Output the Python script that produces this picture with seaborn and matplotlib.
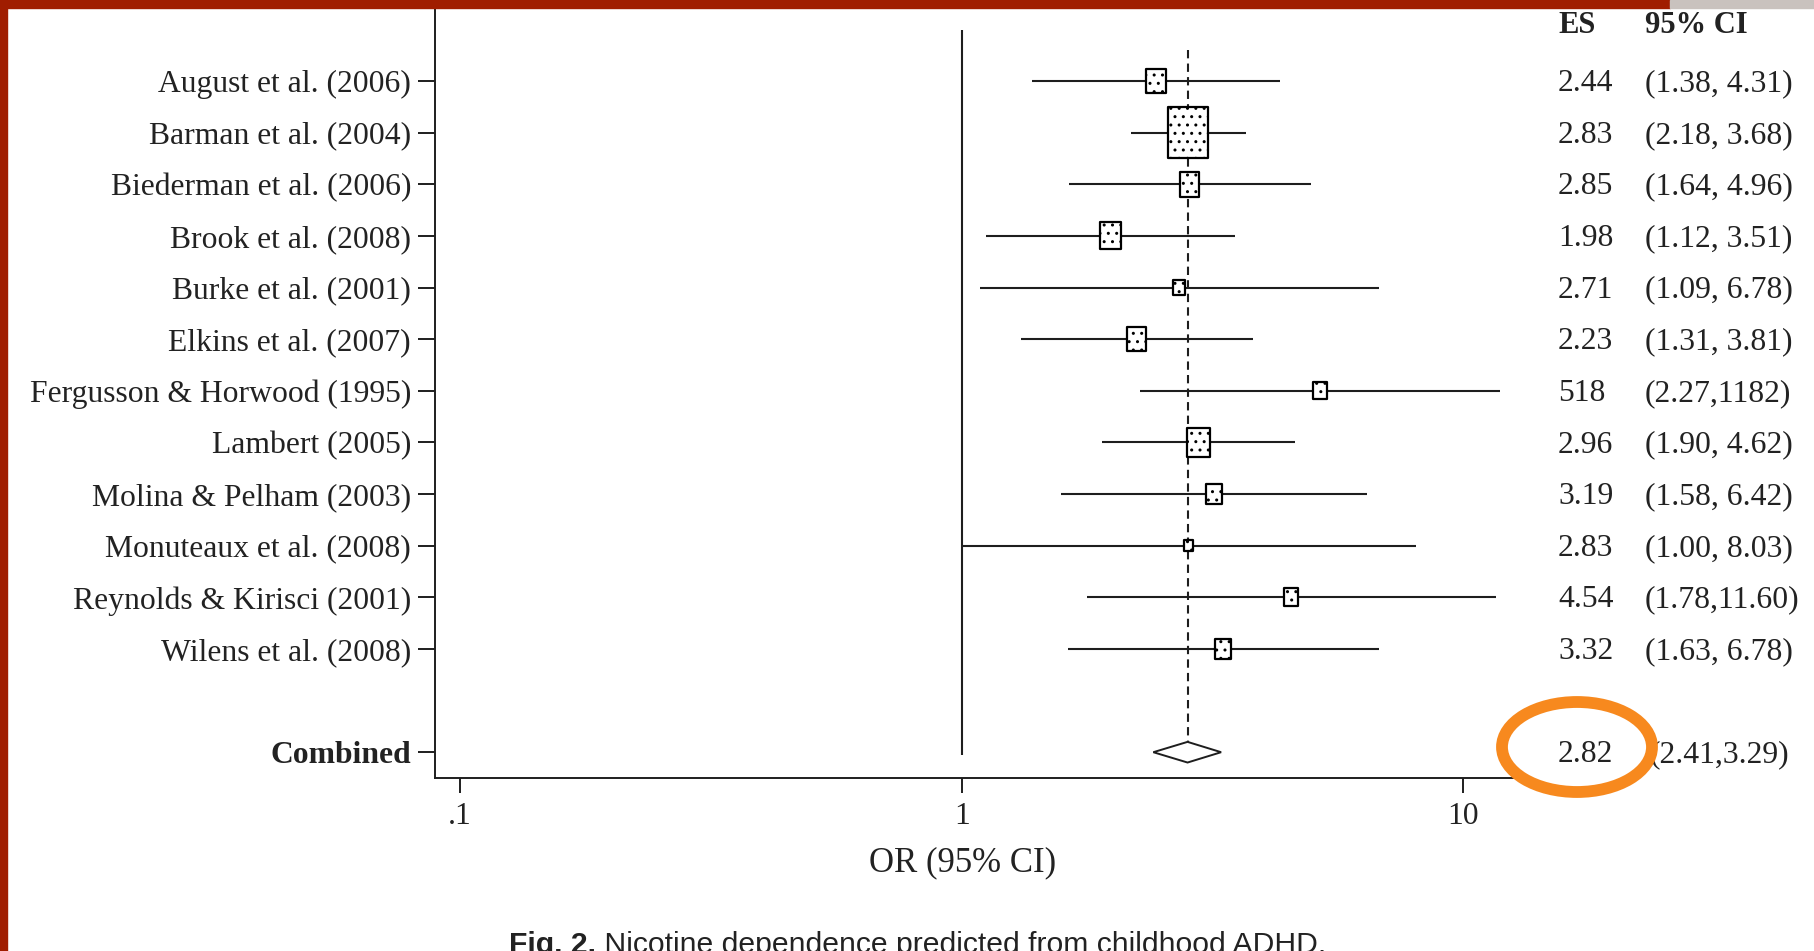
import numpy as np
import matplotlib
matplotlib.use("Agg")
import matplotlib.pyplot as plt
import seaborn as sns
import pandas as pd
from matplotlib.path import Path
from matplotlib.patches import Ellipse, Rectangle
from matplotlib import font_manager
from matplotlib.transforms import blended_transform_factory

# ---------------- data ----------------
studies = ["August et al. (2006)", "Barman et al. (2004)", "Biederman et al. (2006)",
           "Brook et al. (2008)", "Burke et al. (2001)", "Elkins et al. (2007)",
           "Fergusson & Horwood (1995)", "Lambert (2005)", "Molina & Pelham (2003)",
           "Monuteaux et al. (2008)", "Reynolds & Kirisci (2001)", "Wilens et al. (2008)"]
es = [2.44, 2.83, 2.85, 1.98, 2.71, 2.23, 5.18, 2.96, 3.19, 2.83, 4.54, 3.32]
ci_lo = [1.38, 2.18, 1.64, 1.12, 1.09, 1.31, 2.27, 1.90, 1.58, 1.00, 1.78, 1.63]
ci_hi = [4.31, 3.68, 4.96, 3.51, 6.78, 3.81, 11.82, 4.62, 6.42, 8.03, 11.60, 6.78]
weights = [7.6, 33.6, 7.6, 9.3, 3.0, 7.6, 3.6, 11.1, 5.4, 1.7, 4.1, 5.4]
es_text = ["2.44", "2.83", "2.85", "1.98", "2.71", "2.23", "518", "2.96", "3.19",
           "2.83", "4.54", "3.32"]
ci_text = ["(1.38, 4.31)", "(2.18, 3.68)", "(1.64, 4.96)", "(1.12, 3.51)", "(1.09, 6.78)",
           "(1.31, 3.81)", "(2.27,1182)", "(1.90, 4.62)", "(1.58, 6.42)", "(1.00, 8.03)",
           "(1.78,11.60)", "(1.63, 6.78)"]
combined_label = "Combined"
comb_es, comb_lo, comb_hi = 2.82, 2.41, 3.29
comb_es_text = "2.82"
comb_ci_text = "(2.41,3.29)"
null_value = 1.0
xticks = [0.1, 1, 10]
xtick_labels = [".1", "1", "10"]
header_es = "ES"
header_ci = "95% CI"
xlabel = "OR (95% CI)"
caption_bold = "Fig. 2."
caption_rest = " Nicotine dependence predicted from childhood ADHD."

# ---------------- style ----------------
sns.set_theme(style="white")
plt.rcParams["font.family"] = ["Liberation Serif", "DejaVu Serif"]
plt.rcParams["hatch.linewidth"] = 1.0
TXT = "#222222"
LINE = "#1e1e1e"
FS = 22.8

W, H = 1814, 951
fig = plt.figure(figsize=(W / 100, H / 100), dpi=100)
fig.patch.set_facecolor("white")

ax_l, ax_r, ax_b, ax_t = 435, 1525, 777.5, 0
ax = fig.add_axes([ax_l / W, 1 - ax_b / H, (ax_r - ax_l) / W, (ax_b - ax_t) / H])
ax.set_facecolor("white")
ax.set_xscale("log")

n = len(studies)
pos = list(range(n))
comb_pos = n + 1

df = pd.DataFrame({"study": studies, "es": es, "lo": ci_lo, "hi": ci_hi,
                   "w": weights, "pos": pos})

# confidence intervals
ax.hlines(df["pos"], df["lo"], df["hi"], color=LINE, lw=1.5, zorder=2)

# null line and combined line
dh = 0.2
ax.vlines(null_value, -0.99, comb_pos + 0.05, color=LINE, lw=1.5, zorder=1)
ax.vlines(comb_es, -0.6, comb_pos - dh, color=LINE, lw=1.5,
          linestyles=(0, (4, 2.5)), zorder=1)

# weighted boxes (rectangles, taller than wide)
rect = Path([(-0.39, -0.5), (0.39, -0.5), (0.39, 0.5), (-0.39, 0.5), (-0.39, -0.5)],
            [Path.MOVETO, Path.LINETO, Path.LINETO, Path.LINETO, Path.CLOSEPOLY])
k = 41.0
sns.scatterplot(data=df, x="es", y="pos", size="w",
                sizes=(k * min(weights), k * max(weights)),
                marker=rect, color="white", edgecolor="black", linewidth=1.6,
                hatch="..", legend=False, ax=ax, zorder=3)

# combined diamond
ax.fill([comb_lo, comb_es, comb_hi, comb_es],
        [comb_pos, comb_pos - dh, comb_pos, comb_pos + dh],
        facecolor="white", edgecolor=LINE, lw=1.4, zorder=3)

# axes
ax.set_xlim(10 ** -1.05, 10 ** 1.123)
ax.set_ylim(comb_pos + 0.49, -1.57)
ax.set_xticks(xticks)
ax.set_xticklabels(xtick_labels)
ax.minorticks_off()
ax.set_yticks(pos + [comb_pos])
ax.set_yticklabels(studies + [combined_label])
ax.get_yticklabels()[-1].set_fontweight("bold")
ax.tick_params(axis="y", length=12.2, width=1.4, pad=5, labelsize=FS,
               colors=LINE, labelcolor=TXT, left=True)
ax.tick_params(axis="x", length=11, width=1.4, pad=7, labelsize=FS,
               colors=LINE, labelcolor=TXT, bottom=True)
ax.set_xlabel(xlabel, fontsize=25, color=TXT, labelpad=11)
ax.xaxis.label.set_x((962.5 - ax_l) / (ax_r - ax_l))
ax.set_ylabel("")
for s in ["top", "right"]:
    ax.spines[s].set_visible(False)
for s in ["left", "bottom"]:
    ax.spines[s].set_color(LINE)
    ax.spines[s].set_linewidth(1.4)
ax.grid(False)

# right-hand text columns
tr = blended_transform_factory(ax.transAxes, ax.transData)
x_es = (1558 - ax_l) / (ax_r - ax_l)
x_ci = (1645 - ax_l) / (ax_r - ax_l)
hy = -1.07
dy = 0.05
ax.text(x_es, hy, header_es, transform=tr, fontsize=22, fontweight="bold",
        va="center", ha="left", color=TXT, clip_on=False)
ax.text(x_ci, hy, header_ci, transform=tr, fontsize=22, fontweight="bold",
        va="center", ha="left", color=TXT, clip_on=False)
for p, a, b in zip(pos, es_text, ci_text):
    ax.text(x_es, p + dy, a, transform=tr, fontsize=FS, va="center", ha="left",
            color=TXT, clip_on=False)
    ax.text(x_ci, p + dy, b, transform=tr, fontsize=FS, va="center", ha="left",
            color=TXT, clip_on=False)
ax.text(x_es, comb_pos + dy, comb_es_text, transform=tr, fontsize=FS, va="center",
        ha="left", color=TXT, clip_on=False)
ax.text((1650 - ax_l) / (ax_r - ax_l), comb_pos + dy, comb_ci_text, transform=tr,
        fontsize=FS, va="center", ha="left", color=TXT, clip_on=False)

# orange highlight ellipse
fig.add_artist(Ellipse((1577 / W, 1 - 747 / H), 150 / W, 90 / H,
                       transform=fig.transFigure, fill=False,
                       edgecolor="#F7891E", lw=8.5, zorder=10))

# caption (cut at bottom, as in the source slide)
avail = {f.name for f in font_manager.fontManager.ttflist}
cap_font = "Liberation Sans Narrow" if "Liberation Sans Narrow" in avail else "Liberation Sans"
t1 = fig.text(509 / W, 1 - 931 / H, caption_bold, fontsize=21.7, fontweight="bold",
              family=cap_font, va="top", ha="left", color=TXT)
ax.annotate(caption_rest, xy=(1, 1), xycoords=t1, va="top", ha="left",
            fontsize=21.7, family=cap_font, color=TXT, annotation_clip=False)

# red frame (top and left) from the slide
fig.add_artist(Rectangle((0, 1 - 8 / H), 1670 / W, 8 / H, transform=fig.transFigure,
                         color="#A01D00", zorder=20))
fig.add_artist(Rectangle((1670 / W, 1 - 8 / H), 1 - 1670 / W, 8 / H,
                         transform=fig.transFigure, color="#C9C2BE", zorder=20))
fig.add_artist(Rectangle((0, 0), 7 / W, 1, transform=fig.transFigure,
                         color="#A01D00", zorder=20))

fig.savefig("out.png", dpi=100)
